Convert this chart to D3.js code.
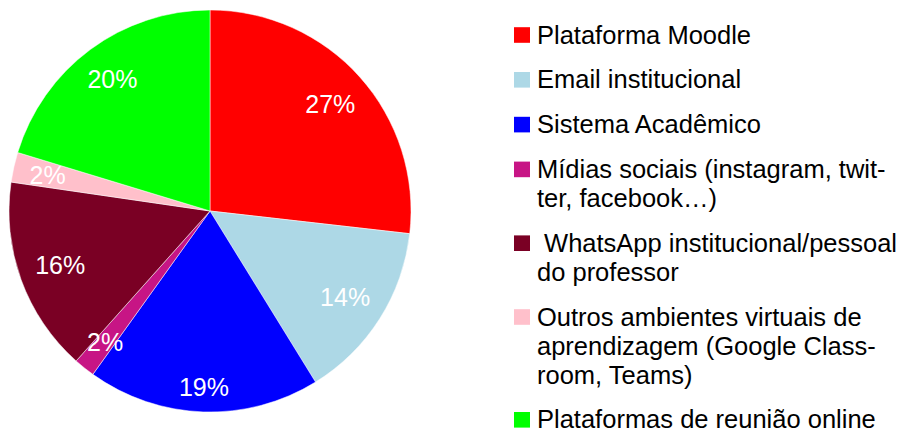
<!DOCTYPE html>
<html>
<head>
<meta charset="utf-8">
<script src="https://cdn.jsdelivr.net/npm/d3@7"></script>
<style>
  body { margin: 0; background: #fff; }
  svg { display: block; font-family: "Liberation Sans", Arial, sans-serif; }
</style>
</head>
<body>
<div id="chart"></div>
<script>
// categories (legend lines, as wrapped in the original)
var categories = [
    ["Plataforma Moodle"],
    ["Email institucional"],
    ["Sistema Acadêmico"],
    ["Mídias sociais (instagram, twit-", "ter, facebook…)"],
    [" WhatsApp institucional/pessoal", "do professor"],
    ["Outros ambientes virtuais de", "aprendizagem (Google Class-", "room, Teams)"],
    ["Plataformas de reunião online"]
];
// share of answers, %
var values = [26.8, 14.4, 18.7, 1.7, 15.7, 2.4, 20.3];
var colors = ["#ff0000", "#add8e6", "#0000ff", "#c71585", "#7a0024", "#ffc0cb", "#00ff00"];

var width = 912, height = 434;
var cx = 210, cy = 211, radius = 201;

var svg = d3.select("#chart").append("svg")
    .attr("width", width)
    .attr("height", height);

var pie = d3.pie().sort(null).value(function(d) { return d; });
var arc = d3.arc().innerRadius(0).outerRadius(radius);
var arcs = pie(values);

var g = svg.append("g")
    .attr("transform", "translate(" + cx + "," + cy + ")");

g.selectAll("path")
    .data(arcs)
    .enter().append("path")
    .attr("d", arc)
    .attr("fill", function(d, i) { return colors[i]; })
    .attr("stroke", "#fff")
    .attr("stroke-width", 0.5);

// labels: keep the text box inside the slice, its outer edge at a fixed radius
var labelEdge = 186, fontSize = 25, halfH = fontSize * 0.36;
g.selectAll("text.pct")
    .data(arcs)
    .enter().append("text")
    .attr("class", "pct")
    .attr("fill", "#fff")
    .attr("font-size", fontSize)
    .attr("text-anchor", "middle")
    .attr("dy", "0.36em")
    .text(function(d) { return Math.round(d.data) + "%"; })
    .each(function(d) {
        var a = (d.startAngle + d.endAngle) / 2;
        var hw = this.getComputedTextLength() / 2;
        var s = Math.sin(a), c = -Math.cos(a);
        var r = labelEdge - (hw * Math.abs(s) + halfH * Math.abs(c));
        d3.select(this).attr("x", r * s).attr("y", r * c);
    });

// legend
var legend = svg.append("g");
var baseline = 43.5, itemGap = 44.8, lineH = 29;
categories.forEach(function(lines, i) {
    var item = legend.append("g");
    item.append("rect")
        .attr("x", 514)
        .attr("y", baseline - 16.3)
        .attr("width", 16)
        .attr("height", 15.6)
        .attr("fill", colors[i]);
    var t = item.append("text")
        .attr("x", 537)
        .attr("y", baseline)
        .attr("font-size", 25.5)
        .attr("fill", "#000")
        .style("white-space", "pre");
    lines.forEach(function(line, j) {
        t.append("tspan")
            .attr("x", 537)
            .attr("dy", j == 0 ? 0 : lineH)
            .text(line);
    });
    baseline += (lines.length - 1) * lineH + itemGap;
});
</script>
</body>
</html>
